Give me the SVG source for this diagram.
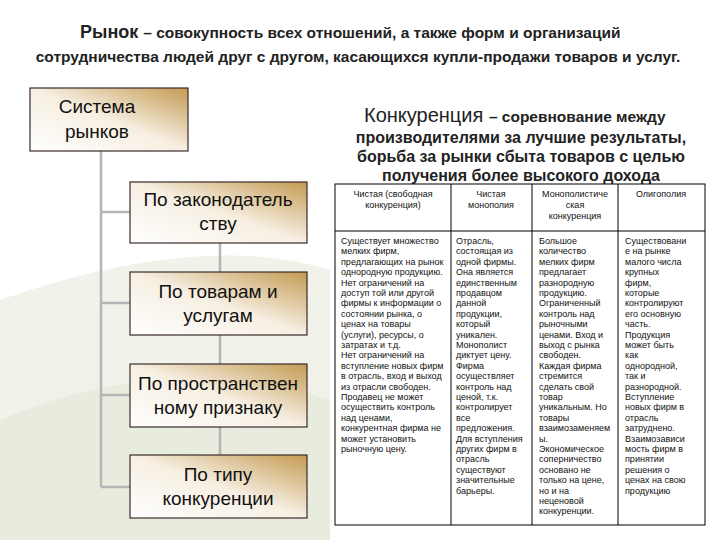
<svg xmlns="http://www.w3.org/2000/svg" width="720" height="540" viewBox="0 0 720 540">
<defs>
<linearGradient id="g" x1="0" y1="1" x2="1" y2="0">
<stop offset="0" stop-color="#ffffff"/><stop offset="0.5" stop-color="#f6efe2"/><stop offset="1" stop-color="#c49a52"/>
</linearGradient>
<style>
.b{fill:url(#g);stroke:#3b2a2a;stroke-width:1.2}
.nt{font-family:"Liberation Sans",Arial,sans-serif;font-size:19px;fill:#111;text-anchor:middle}
.c{stroke:#b5b5b5;stroke-width:2.5;fill:none}
.h{font-family:"Liberation Sans",Arial,sans-serif;font-weight:bold;fill:#222}
.t{font-family:"Liberation Sans",Arial,sans-serif;font-size:9px;fill:#111}
.tc{text-anchor:middle}
.g{stroke:#000;stroke-width:1;fill:#fff}
</style>
</defs>
<rect width="720" height="540" fill="#fff"/>
<path d="M0 300 Q200 230 330 270 L330 540 L0 540 Z" fill="#f1f3ea"/>
<path d="M0 420 Q160 350 330 400 L330 540 L0 540 Z" fill="#e8ecdf"/>
<text class="h" x="80" y="38" font-size="18">Рынок <tspan font-size="15.5">– совокупность всех отношений, а также форм и организаций</tspan></text>
<text class="h" x="358" y="62" font-size="15.5" text-anchor="middle">сотрудничества людей друг с другом, касающихся купли-продажи товаров и услуг.</text>
<g id="connectors">
<path class="c" d="M101 151 V487 M101 212 H130 M101 303 H130 M101 395 H130 M101 487 H130 M220 243 V272 M220 335 V364 M220 427 V455"/>
</g>
<g id="n0"><rect class="b" x="30" y="88" width="158" height="63"/><text class="nt" x="97" y="113">Система</text><text class="nt" x="97" y="138">рынков</text></g>
<g id="n1"><rect class="b" x="130" y="182" width="177" height="61"/><text class="nt" x="218" y="206">По законодатель</text><text class="nt" x="218" y="230">ству</text></g>
<g id="n2"><rect class="b" x="130" y="272" width="177" height="63"/><text class="nt" x="218" y="298">По товарам и</text><text class="nt" x="218" y="322">услугам</text></g>
<g id="n3"><rect class="b" x="130" y="364" width="177" height="63"/><text class="nt" x="218" y="390">По пространствен</text><text class="nt" x="218" y="414">ному признаку</text></g>
<g id="n4"><rect class="b" x="130" y="455" width="177" height="63"/><text class="nt" x="218" y="481">По типу</text><text class="nt" x="218" y="505">конкуренции</text></g>
<g id="title2">
<text x="364" y="122" font-family="Liberation Sans, Arial, sans-serif" font-size="20" fill="#222">Конкуренция <tspan font-weight="bold" font-size="15.5">– соревнование между</tspan></text>
<text class="h" x="521" y="143" font-size="16" text-anchor="middle">производителями за лучшие результаты,</text>
<text class="h" x="521" y="162" font-size="16" text-anchor="middle">борьба за рынки сбыта товаров с целью</text>
<text class="h" x="521" y="181" font-size="16" text-anchor="middle">получения более высокого дохода</text>
</g>
<g id="table">
<rect class="g" x="335" y="184" width="370" height="341"/>
<path d="M335 231 H705 M451 184 V525 M532 184 V525 M618 184 V525" stroke="#000" stroke-width="1" fill="none"/>
<g class="t tc">
<text x="393" y="197">Чистая (свободная</text><text x="393" y="208">конкуренция)</text>
<text x="491" y="197">Чистая</text><text x="491" y="208">монополия</text>
<text x="575" y="197">Монополистиче</text><text x="575" y="208">ская</text><text x="575" y="219">конкуренция</text>
<text x="661" y="197">Олигополия</text>
</g>
<text class="t" x="341" y="244"><tspan x="341" dy="0">Существует множество</tspan><tspan x="341" dy="10.4">мелких фирм,</tspan><tspan x="341" dy="10.4">предлагающих на рынок</tspan><tspan x="341" dy="10.4">однородную продукцию.</tspan><tspan x="341" dy="10.4">Нет ограничений на</tspan><tspan x="341" dy="10.4">доступ той или другой</tspan><tspan x="341" dy="10.4">фирмы к информации о</tspan><tspan x="341" dy="10.4">состоянии рынка, о</tspan><tspan x="341" dy="10.4">ценах на товары</tspan><tspan x="341" dy="10.4">(услуги), ресурсы, о</tspan><tspan x="341" dy="10.4">затратах и т.д.</tspan><tspan x="341" dy="10.4">Нет ограничений на</tspan><tspan x="341" dy="10.4">вступление новых фирм</tspan><tspan x="341" dy="10.4">в отрасль, вход и выход</tspan><tspan x="341" dy="10.4">из отрасли свободен.</tspan><tspan x="341" dy="10.4">Продавец не может</tspan><tspan x="341" dy="10.4">осуществить контроль</tspan><tspan x="341" dy="10.4">над ценами,</tspan><tspan x="341" dy="10.4">конкурентная фирма не</tspan><tspan x="341" dy="10.4">может установить</tspan><tspan x="341" dy="10.4">рыночную цену.</tspan></text>
<text class="t" x="456" y="244"><tspan x="456" dy="0">Отрасль,</tspan><tspan x="456" dy="10.4">состоящая из</tspan><tspan x="456" dy="10.4">одной фирмы.</tspan><tspan x="456" dy="10.4">Она является</tspan><tspan x="456" dy="10.4">единственным</tspan><tspan x="456" dy="10.4">продавцом</tspan><tspan x="456" dy="10.4">данной</tspan><tspan x="456" dy="10.4">продукции,</tspan><tspan x="456" dy="10.4">который</tspan><tspan x="456" dy="10.4">уникален.</tspan><tspan x="456" dy="10.4">Монополист</tspan><tspan x="456" dy="10.4">диктует цену.</tspan><tspan x="456" dy="10.4">Фирма</tspan><tspan x="456" dy="10.4">осуществляет</tspan><tspan x="456" dy="10.4">контроль над</tspan><tspan x="456" dy="10.4">ценой, т.к.</tspan><tspan x="456" dy="10.4">контролирует</tspan><tspan x="456" dy="10.4">все</tspan><tspan x="456" dy="10.4">предложения.</tspan><tspan x="456" dy="10.4">Для вступления</tspan><tspan x="456" dy="10.4">других фирм в</tspan><tspan x="456" dy="10.4">отрасль</tspan><tspan x="456" dy="10.4">существуют</tspan><tspan x="456" dy="10.4">значительные</tspan><tspan x="456" dy="10.4">барьеры.</tspan></text>
<text class="t" x="539" y="244"><tspan x="539" dy="0">Большое</tspan><tspan x="539" dy="10.4">количество</tspan><tspan x="539" dy="10.4">мелких фирм</tspan><tspan x="539" dy="10.4">предлагает</tspan><tspan x="539" dy="10.4">разнородную</tspan><tspan x="539" dy="10.4">продукцию.</tspan><tspan x="539" dy="10.4">Ограниченный</tspan><tspan x="539" dy="10.4">контроль над</tspan><tspan x="539" dy="10.4">рыночными</tspan><tspan x="539" dy="10.4">ценами. Вход и</tspan><tspan x="539" dy="10.4">выход с рынка</tspan><tspan x="539" dy="10.4">свободен.</tspan><tspan x="539" dy="10.4">Каждая фирма</tspan><tspan x="539" dy="10.4">стремится</tspan><tspan x="539" dy="10.4">сделать свой</tspan><tspan x="539" dy="10.4">товар</tspan><tspan x="539" dy="10.4">уникальным. Но</tspan><tspan x="539" dy="10.4">товары</tspan><tspan x="539" dy="10.4">взаимозаменяем</tspan><tspan x="539" dy="10.4">ы.</tspan><tspan x="539" dy="10.4">Экономическое</tspan><tspan x="539" dy="10.4">соперничество</tspan><tspan x="539" dy="10.4">основано не</tspan><tspan x="539" dy="10.4">только на цене,</tspan><tspan x="539" dy="10.4">но и на</tspan><tspan x="539" dy="10.4">неценовой</tspan><tspan x="539" dy="10.4">конкуренции.</tspan></text>
<text class="t" x="625" y="244"><tspan x="625" dy="0">Существовани</tspan><tspan x="625" dy="10.4">е на рынке</tspan><tspan x="625" dy="10.4">малого числа</tspan><tspan x="625" dy="10.4">крупных</tspan><tspan x="625" dy="10.4">фирм,</tspan><tspan x="625" dy="10.4">которые</tspan><tspan x="625" dy="10.4">контролируют</tspan><tspan x="625" dy="10.4">его основную</tspan><tspan x="625" dy="10.4">часть.</tspan><tspan x="625" dy="10.4">Продукция</tspan><tspan x="625" dy="10.4">может быть</tspan><tspan x="625" dy="10.4">как</tspan><tspan x="625" dy="10.4">однородной,</tspan><tspan x="625" dy="10.4">так и</tspan><tspan x="625" dy="10.4">разнородной.</tspan><tspan x="625" dy="10.4">Вступление</tspan><tspan x="625" dy="10.4">новых фирм в</tspan><tspan x="625" dy="10.4">отрасль</tspan><tspan x="625" dy="10.4">затруднено.</tspan><tspan x="625" dy="10.4">Взаимозависи</tspan><tspan x="625" dy="10.4">мость фирм в</tspan><tspan x="625" dy="10.4">принятии</tspan><tspan x="625" dy="10.4">решения о</tspan><tspan x="625" dy="10.4">ценах на свою</tspan><tspan x="625" dy="10.4">продукцию</tspan></text>
</g>
</svg>
